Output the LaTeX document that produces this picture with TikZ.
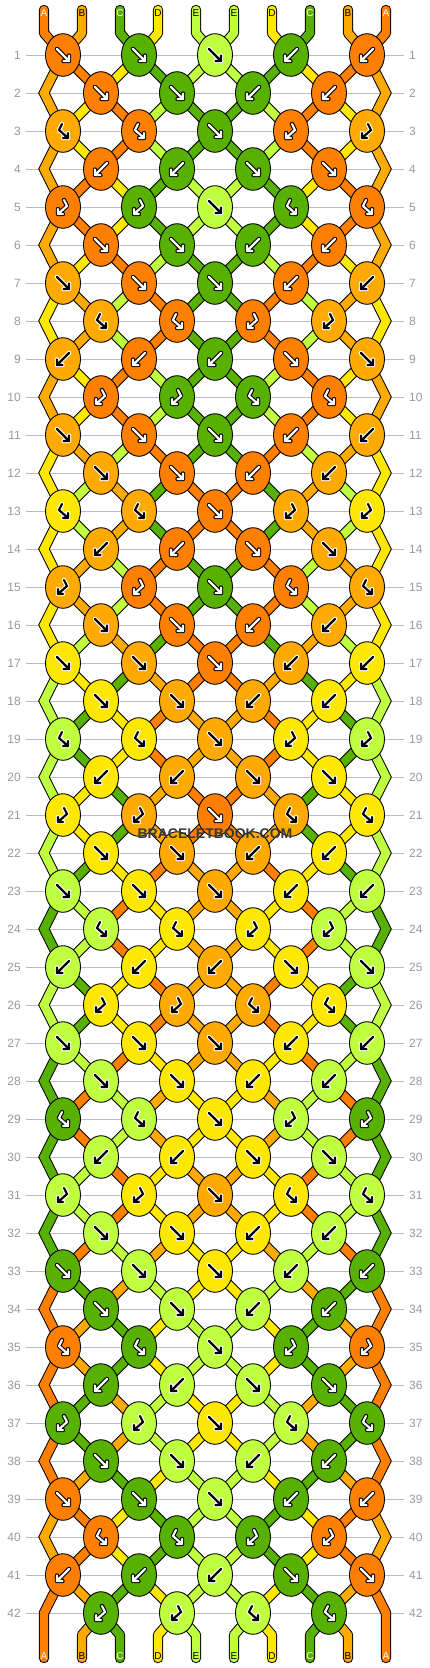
\documentclass[tikz,border=0pt]{standalone}
\usepackage{fontspec}
\setmainfont{Liberation Sans}
\usetikzlibrary{shapes.geometric}
\definecolor{sA}{HTML}{FF8000}
\definecolor{sB}{HTML}{FFAA00}
\definecolor{sC}{HTML}{58B000}
\definecolor{sD}{HTML}{FFE800}
\definecolor{sE}{HTML}{C0FF40}
\definecolor{rowgray}{HTML}{BBBBBB}
\definecolor{labgray}{HTML}{999999}
\def\fgA{white}\def\bgA{black}
\def\fgB{black}\def\bgB{white}
\def\fgC{white}\def\bgC{black}
\def\fgD{black}\def\bgD{white}
\def\fgE{black}\def\bgE{white}
\def\labA{white}\def\labB{black}\def\labC{white}\def\labD{black}\def\labE{black}
\def\mirF{B}\def\mirB{F}\def\mirf{b}\def\mirb{f}
\newcommand\glF[1]{\draw[#1] (-6,-6) -- (6,6) (0.5,6) -- (6,6) -- (6,0.5);}
\newcommand\glB[1]{\draw[#1] (6,-6) -- (-6,6) (-0.5,6) -- (-6,6) -- (-6,0.5);}
\newcommand\glf[1]{\draw[#1] (-1,-7) -- (-4,-1) -- (5,7) (0,7) -- (5,7) -- (5,2);}
\newcommand\glb[1]{\draw[#1] (1,-7) -- (4,-1) -- (-5,7) (0,7) -- (-5,7) -- (-5,2);}
\newcommand\knotat[4]{%
  \node[knot, fill=s#3] (#1) at (#2) {};
  \begin{scope}[shift={(#2)}, line cap=round, line join=round]
    \csname gl#4\endcsname{line width=4.4, draw=\csname bg#3\endcsname}
    \csname gl#4\endcsname{line width=2.2, draw=\csname fg#3\endcsname}
  \end{scope}}
\newcommand\kname[3]{%
  \pgfmathtruncatemacro\knodd{mod(#1,2)}%
  \ifnum\knodd=1
    \pgfmathtruncatemacro\knj{floor(#2/2)}\edef#3{k-#1-\knj}%
  \else
    \ifnum#2=0 \edef#3{eL-#1}\else
    \ifnum#2=9 \edef#3{eR-#1}\else
      \pgfmathtruncatemacro\knj{floor((#2-1)/2)}\edef#3{k-#1-\knj}%
    \fi\fi
  \fi}
\begin{document}
\begin{tikzpicture}[x=1pt,y=-1pt,
  knot/.style={ellipse, draw=black, line width=0.9, minimum width=35, minimum height=42.6, inner sep=0},
  rowlab/.style={font=\fontsize{12}{12}\selectfont, text=labgray, inner sep=0}]
\useasboundingbox (0,0) rectangle (430,1668);
\fill[white] (0,0) rectangle (430,1668);
% coordinates, row lines, row labels
\foreach \rw in {1,...,42} {
  \pgfmathsetmacro\yy{55+38*(\rw-1)}
  \ifodd\rw\relax
    \foreach \j in {0,...,4} {\coordinate (k-\rw-\j) at ({63+76*\j},\yy);}
  \else
    \foreach \j in {0,...,3} {\coordinate (k-\rw-\j) at ({101+76*\j},\yy);}
    \coordinate (eL-\rw) at (44,\yy);
    \coordinate (eR-\rw) at (386,\yy);
  \fi
  \coordinate (gl-\rw) at (26,\yy);
  \coordinate (gr-\rw) at (404,\yy);
  \draw[rowgray, line width=0.8] (gl-\rw) -- (gr-\rw);
  \node[rowlab, anchor=east] (ll-\rw) at (21,\yy) {\rw};
  \node[rowlab, anchor=west] (lr-\rw) at (409,\yy) {\rw};
}
\foreach \ps in {0,...,9} {
  \coordinate (t-\ps) at ({44+38*\ps},10);
  \coordinate (tm-\ps) at ({44+38*\ps},33);
  \coordinate (bm-\ps) at ({44+38*\ps},1635);
  \coordinate (b-\ps) at ({44+38*\ps},1658);
}
% strands
\foreach \pass in {0,1} {
  \ifnum\pass=0 \def\lw{10.4}\else\def\lw{8.4}\fi
  \foreach \rw/\za/\zb/\zc/\zd/\ze in {1/B/A/D/C/E,2/B/D/A/E/C,3/B/D/A/E/C,4/B/A/D/C/E,5/B/A/D/C/E,6/B/D/A/E/C,7/D/B/E/A/C,8/D/B/E/A/C,9/B/D/A/E/C,10/B/D/A/E/C,11/D/B/E/A/C,12/D/E/B/C/A,13/D/E/B/C/A,14/D/B/E/A/C,15/D/B/E/A/C,16/D/E/B/C/A,17/E/D/C/B/A,18/E/C/D/A/B,19/E/C/D/A/B,20/E/D/C/B/A,21/E/D/C/B/A,22/E/C/D/A/B,23/C/E/A/D/B,24/C/E/A/D/B,25/E/C/D/A/B,26/E/C/D/A/B,27/C/E/A/D/B,28/C/A/E/B/D,29/C/A/E/B/D,30/C/E/A/D/B,31/C/E/A/D/B,32/C/A/E/B/D,33/A/C/B/E/D,34/A/B/C/D/E,35/A/B/C/D/E,36/A/C/B/E/D,37/A/C/B/E/D,38/A/B/C/D/E,39/B/A/D/C/E,40/B/A/D/C/E,41/A/B/C/D/E} {
    \pgfmathtruncatemacro\rn{\rw+1}
    \foreach \ps/\cl in {1/\zb,2/\zc,3/\zd,4/\ze} {
      \kname{\rw}{\ps}\na \kname{\rn}{\ps}\nb
      \pgfmathtruncatemacro\qs{9-\ps}
      \kname{\rw}{\qs}\nc \kname{\rn}{\qs}\nd
      \ifnum\pass=0 \def\colname{black}\else\edef\colname{s\cl}\fi
      \draw[line width=\lw, draw=\colname, line cap=round] (\na) -- (\nb) (\nc) -- (\nd);
    }
    \ifodd\rw\relax
      \ifnum\rw<40
        \pgfmathtruncatemacro\rnn{\rw+2}
        \ifnum\pass=0 \def\colname{black}\else\edef\colname{s\za}\fi
        \draw[line width=\lw, draw=\colname, line join=miter] (k-\rw-0) -- (eL-\rn) -- (k-\rnn-0) (k-\rw-4) -- (eR-\rn) -- (k-\rnn-4);
      \fi
    \fi
  }
  % top strands
  \foreach \ps/\cl in {0/A,1/B,2/C,3/D,4/E} {
    \pgfmathtruncatemacro\kj{floor(\ps/2)}
    \pgfmathtruncatemacro\kjm{4-\kj}
    \pgfmathtruncatemacro\qs{9-\ps}
    \ifnum\pass=0 \def\colname{black}\else\edef\colname{s\cl}\fi
    \draw[line width=\lw, draw=\colname, line cap=round, line join=round] (t-\ps) -- (tm-\ps) -- (k-1-\kj) (t-\qs) -- (tm-\qs) -- (k-1-\kjm);
  }
  % bottom strands
  \ifnum\pass=0 \def\colname{black}\else\def\colname{sA}\fi
  \draw[line width=\lw, draw=\colname, line cap=round] (k-41-0) -- (eL-42) -- (b-0) (k-41-4) -- (eR-42) -- (b-9);
  \foreach \ps/\cl in {1/B,2/C,3/D,4/E} {
    \pgfmathtruncatemacro\kj{floor((\ps-1)/2)}
    \pgfmathtruncatemacro\kjm{3-\kj}
    \pgfmathtruncatemacro\qs{9-\ps}
    \ifnum\pass=0 \def\colname{black}\else\edef\colname{s\cl}\fi
    \draw[line width=\lw, draw=\colname, line cap=round, line join=round] (k-42-\kj) -- (bm-\ps) -- (b-\ps) (k-42-\kjm) -- (bm-\qs) -- (b-\qs);
  }
}
% string labels
\foreach \ps/\cl in {0/A,1/B,2/C,3/D,4/E,5/E,6/D,7/C,8/B,9/A} {
  \node[font=\fontsize{10}{10}\selectfont, text=\csname lab\cl\endcsname, inner sep=0] (lt-\ps) at ({44+38*\ps},13) {\cl};
  \node[font=\fontsize{10}{10}\selectfont, text=\csname lab\cl\endcsname, inner sep=0] (lb-\ps) at ({44+38*\ps},1656) {\cl};
}
% knots, odd rows
\foreach \rw/\ta/\ca/\tb/\cb/\tmid/\cmid in {1/F/A/F/C/F/E,3/f/B/f/A/F/C,5/b/A/b/C/F/E,7/F/B/F/A/F/C,9/B/B/B/A/B/C,11/F/B/F/A/F/C,13/f/D/f/B/F/A,15/b/B/b/A/F/C,17/F/D/F/B/F/A,19/f/E/f/D/F/B,21/b/D/b/B/F/A,23/F/E/F/D/F/B,25/B/E/B/D/B/B,27/F/E/F/D/F/B,29/f/C/f/E/F/D,31/b/E/b/D/F/B,33/F/C/F/E/F/D,35/f/A/f/C/F/E,37/b/C/b/E/F/D,39/F/A/F/C/F/E,41/B/A/B/C/B/E} {
  \knotat{kn-\rw-0}{k-\rw-0}{\ca}{\ta}
  \knotat{kn-\rw-1}{k-\rw-1}{\cb}{\tb}
  \knotat{kn-\rw-2}{k-\rw-2}{\cmid}{\tmid}
  \knotat{kn-\rw-3}{k-\rw-3}{\cb}{\csname mir\tb\endcsname}
  \knotat{kn-\rw-4}{k-\rw-4}{\ca}{\csname mir\ta\endcsname}
}
% knots, even rows
\foreach \rw/\ta/\ca/\tb/\cb in {2/F/A/F/C,4/B/A/B/C,6/F/A/F/C,8/f/B/f/A,10/b/A/b/C,12/F/B/F/A,14/B/B/B/A,16/F/B/F/A,18/F/D/F/B,20/B/D/B/B,22/F/D/F/B,24/f/E/f/D,26/b/D/b/B,28/F/E/F/D,30/B/E/B/D,32/F/E/F/D,34/F/C/F/E,36/B/C/B/E,38/F/C/F/E,40/f/A/f/C,42/b/C/b/E} {
  \knotat{kn-\rw-0}{k-\rw-0}{\ca}{\ta}
  \knotat{kn-\rw-1}{k-\rw-1}{\cb}{\tb}
  \knotat{kn-\rw-2}{k-\rw-2}{\cb}{\csname mir\tb\endcsname}
  \knotat{kn-\rw-3}{k-\rw-3}{\ca}{\csname mir\ta\endcsname}
}
\node[font=\bfseries\fontsize{14}{14}\selectfont, text=black!78, inner sep=0] (wm) at (215,834) {BRACELETBOOK.COM};
\end{tikzpicture}
\end{document}
